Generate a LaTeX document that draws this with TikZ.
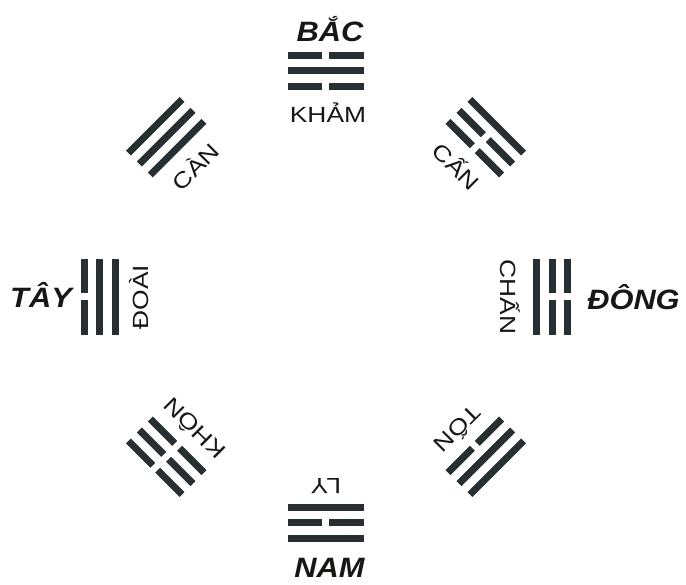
\documentclass[tikz,border=0pt]{standalone}
\usepackage{fontspec}
\setmainfont{Liberation Sans}
\newfontfamily\lblfont[FakeStretch=1.2]{Liberation Sans}
\newfontfamily\dirfont[FakeStretch=1.1]{Liberation Sans}
\definecolor{ink}{RGB}{40,47,51}
\definecolor{txt}{RGB}{25,22,22}
\begin{document}
\begin{tikzpicture}[x=1pt, y=1pt,
		yang/.style={line width=7pt, draw=ink},
		yin/.style={yang, dash pattern=on 34.5pt off 7pt},
		gua/.style={font=\lblfont\fontsize{22}{22}\selectfont, text=txt, inner sep=0pt, anchor=base},
		huong/.style={font=\dirfont\bfseries\itshape\fontsize{28}{28}\selectfont, text=txt, inner sep=0pt, anchor=base}]
	\useasboundingbox (-326,-288) rectangle (360,297);
	% Kham (north)
	\begin{scope}[rotate=0, transform shape]
		\draw[yin] (-38,210.5) -- (38,210.5);
		\draw[yang] (-38,226) -- (38,226);
		\draw[yin] (-38,241.5) -- (38,241.5);
		\node[gua] (kham) at (2,174) {KHẢM};
	\end{scope}
	% Can (north-east)
	\begin{scope}[rotate=-45, transform shape]
		\draw[yin] (-38,210.5) -- (38,210.5);
		\draw[yin] (-38,226) -- (38,226);
		\draw[yang] (-38,241.5) -- (38,241.5);
		\node[gua] (can2) at (0,176) {CẤN};
	\end{scope}
	% Chan (east)
	\begin{scope}[rotate=-90, transform shape]
		\draw[yang] (-38,210.5) -- (38,210.5);
		\draw[yin] (-38,226) -- (38,226);
		\draw[yin] (-38,241.5) -- (38,241.5);
		\node[gua] (chan) at (0,174) {CHẤN};
	\end{scope}
	% Ton (south-east)
	\begin{scope}[rotate=-135, transform shape]
		\draw[yin] (-38,210.5) -- (38,210.5);
		\draw[yang] (-38,226) -- (38,226);
		\draw[yang] (-38,241.5) -- (38,241.5);
		\node[gua] (ton) at (0,178) {TỐN};
	\end{scope}
	% Ly (south)
	\begin{scope}[rotate=180, transform shape]
		\draw[yang] (-38,210.5) -- (38,210.5);
		\draw[yin] (-38,226) -- (38,226);
		\draw[yang] (-38,241.5) -- (38,241.5);
		\node[gua] (ly) at (0,182) {LY};
	\end{scope}
	% Khon (south-west)
	\begin{scope}[rotate=135, transform shape]
		\draw[yin] (-38,210.5) -- (38,210.5);
		\draw[yin] (-38,226) -- (38,226);
		\draw[yin] (-38,241.5) -- (38,241.5);
		\node[gua] (khon) at (0,178) {KHÔN};
	\end{scope}
	% Doai (west)
	\begin{scope}[rotate=90, transform shape]
		\draw[yang] (-38,210.5) -- (38,210.5);
		\draw[yang] (-38,226) -- (38,226);
		\draw[yin] (-38,241.5) -- (38,241.5);
		\node[gua] (doai) at (0,177) {ĐOÀI};
	\end{scope}
	% Can (north-west)
	\begin{scope}[rotate=45, transform shape]
		\draw[yang] (-38,210.5) -- (38,210.5);
		\draw[yang] (-38,226) -- (38,226);
		\draw[yang] (-38,241.5) -- (38,241.5);
		\node[gua] (can) at (0,176) {CÀN};
	\end{scope}
	% directions
	\node[huong] (bac) at (4,255) {BẮC};
	\node[huong] (nam) at (3.5,-281) {NAM};
	\node[huong] (tay) at (-285,-11) {TÂY};
	\node[huong] (dong) at (307.5,-13) {ĐÔNG};
\end{tikzpicture}
\end{document}
